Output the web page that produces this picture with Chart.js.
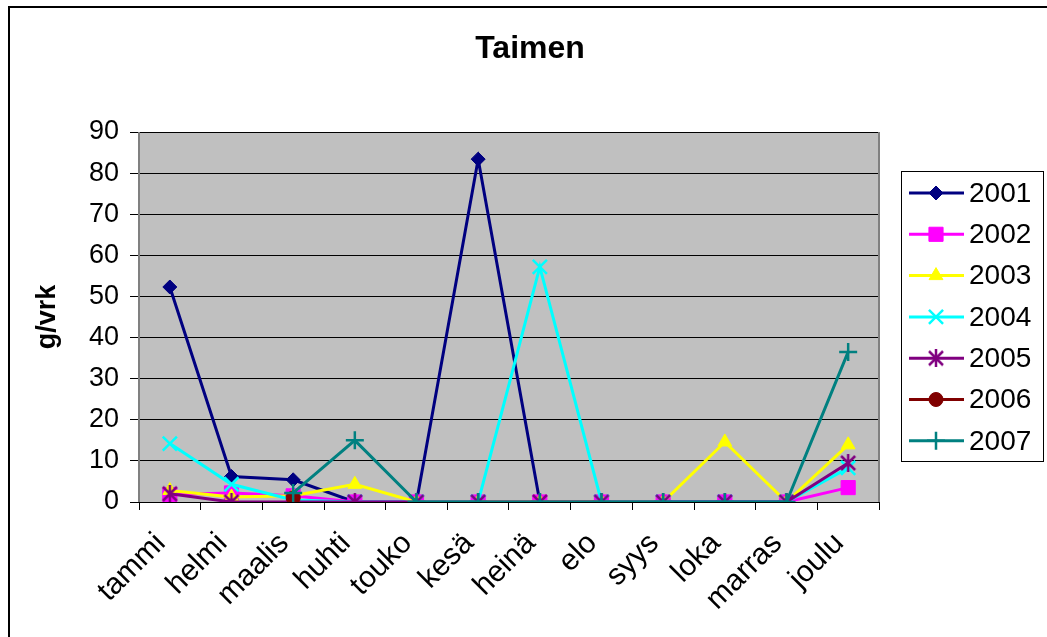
<!DOCTYPE html>
<html>
<head>
<meta charset="utf-8">
<script src="https://cdn.jsdelivr.net/npm/chart.js@4/dist/chart.umd.min.js"></script>
<style>
  html, body { margin: 0; padding: 0; background: #fff; }
  #wrap { width: 1047px; height: 637px; }
</style>
</head>
<body>
<div id="wrap"><canvas id="chart"></canvas></div>
<script>
const chartTitle = 'Taimen';
const yTitle = 'g/vrk';
const months = ['tammi', 'helmi', 'maalis', 'huhti', 'touko', 'kesä', 'heinä', 'elo', 'syys', 'loka', 'marras', 'joulu'];
const years = ['2001', '2002', '2003', '2004', '2005', '2006', '2007'];

const v2001 = [52.3, 6.2, 5.4, 0, 0, 83.4, 0, 0, 0, 0, 0, null];
const v2002 = [1.8, 2.2, 1.5, 0, 0, 0, 0, 0, 0, 0, 0, 3.5];
const v2003 = [2.8, 1.2, 1.5, 4.3, 0, 0, 0, 0, 0, 14.6, 0, 13.9];
const v2004 = [14.2, 4.3, 0.5, 0, 0, 0, 57.2, 0, 0, 0, 0, 8.3];
const v2005 = [2.0, 0, 0, 0, 0, 0, 0, 0, 0, 0, 0, 9.5];
const v2006 = [null, null, 1.0, null, null, null, null, null, null, null, null, null];
const v2007 = [null, null, 2.2, 15.0, 0, 0, 0, 0, 0, 0, 0, 36.5];

const seriesValues = [v2001, v2002, v2003, v2004, v2005, v2006, v2007];
const colors = ['#000080', '#FF00FF', '#FFFF00', '#00FFFF', '#800080', '#800000', '#008080'];

const FONT = "'Liberation Sans', Arial, sans-serif";

// Excel style asterisk: an X with a vertical bar
function asterisk(color) {
    const c = document.createElement('canvas');
    c.width = 18; c.height = 18;
    const g = c.getContext('2d');
    g.strokeStyle = color;
    g.lineWidth = 2.5;
    g.beginPath();
    g.moveTo(2, 2); g.lineTo(16, 16);
    g.moveTo(16, 2); g.lineTo(2, 16);
    g.moveTo(9, 0); g.lineTo(9, 18);
    g.stroke();
    return c;
}

const markers = ['rectRot', 'rect', 'triangle', 'crossRot', asterisk('#800080'), 'circle', 'cross'];
const markerSizes = [7, 10, 8, 10, 9, 7, 9];

const datasets = years.map(function(y, i) {
    const stroked = markers[i] === 'cross' || markers[i] === 'crossRot';
    return {
        label: y,
        data: seriesValues[i],
        borderColor: colors[i],
        backgroundColor: colors[i],
        borderWidth: 3,
        pointStyle: markers[i],
        pointRadius: markerSizes[i],
        pointBorderWidth: stroked ? 2.5 : 1,
        pointBackgroundColor: colors[i],
        pointBorderColor: colors[i],
        fill: false,
        tension: 0,
        spanGaps: false,
        order: years.length - i
    };
});

// plot background, frame, title and legend in Excel style
const excelLook = {
    id: 'excelLook',
    beforeDraw(chart) {
        const a = chart.chartArea;
        const ctx = chart.ctx;
        ctx.save();
        ctx.fillStyle = '#C0C0C0';
        ctx.fillRect(a.left, a.top, a.right - a.left, a.bottom - a.top);
        ctx.restore();
    },
    beforeDatasetsDraw(chart) {
        const a = chart.chartArea;
        const ctx = chart.ctx;
        ctx.save();
        ctx.strokeStyle = '#808080';
        ctx.lineWidth = 2;
        ctx.beginPath();
        ctx.moveTo(a.left, a.top); ctx.lineTo(a.left, a.bottom);
        ctx.moveTo(a.right, a.top); ctx.lineTo(a.right, a.bottom);
        ctx.stroke();
        ctx.restore();
    },
    afterDraw(chart) {
        const ctx = chart.ctx;
        ctx.save();
        // outer frame (left and top only, picture is cropped)
        ctx.strokeStyle = '#000';
        ctx.lineWidth = 2;
        ctx.beginPath();
        ctx.moveTo(9, 637); ctx.lineTo(9, 7); ctx.lineTo(1047, 7);
        ctx.stroke();

        // title
        ctx.fillStyle = '#000';
        ctx.font = 'bold 32px ' + FONT;
        ctx.textAlign = 'center';
        ctx.textBaseline = 'alphabetic';
        ctx.fillText(chartTitle, 530, 58);

        // legend
        ctx.lineWidth = 1;
        ctx.strokeStyle = '#000';
        ctx.strokeRect(901.5, 171.5, 142, 290);
        ctx.font = '28px ' + FONT;
        ctx.textAlign = 'left';
        ctx.textBaseline = 'middle';
        chart.data.datasets.forEach(function(ds, i) {
            const y = 193 + i * 41.3;
            ctx.strokeStyle = ds.borderColor;
            ctx.lineWidth = 3;
            ctx.beginPath();
            ctx.moveTo(909, y); ctx.lineTo(964, y);
            ctx.stroke();
            ctx.fillStyle = ds.backgroundColor;
            ctx.lineWidth = ds.pointBorderWidth;
            Chart.helpers.drawPoint(ctx, {
                pointStyle: ds.pointStyle,
                radius: ds.pointRadius,
                rotation: 0,
                borderWidth: ds.pointBorderWidth
            }, 936, y);
            ctx.fillStyle = '#000';
            ctx.fillText(ds.label, 969, y + 1);
        });
        ctx.restore();
    }
};

new Chart(document.getElementById('chart'), {
    type: 'line',
    data: {
        labels: months,
        datasets: datasets
    },
    options: {
        responsive: true,
        maintainAspectRatio: false,
        animation: false,
        layout: {
            padding: { top: 132, right: 168, bottom: 0, left: 0 }
        },
        plugins: {
            legend: { display: false },
            title: { display: false },
            tooltip: { enabled: false }
        },
        scales: {
            x: {
                offset: true,
                grid: {
                    offset: true,
                    drawOnChartArea: false,
                    drawTicks: true,
                    tickLength: 8,
                    tickColor: '#000'
                },
                border: { display: true, color: '#000', width: 1 },
                ticks: {
                    autoSkip: false,
                    minRotation: 45,
                    maxRotation: 45,
                    padding: 16,
                    labelOffset: -9,
                    color: '#000',
                    font: { family: FONT, size: 30 }
                },
                afterFit: function(scale) { scale.height = 135; }
            },
            y: {
                min: 0,
                max: 90,
                grid: {
                    color: '#000',
                    lineWidth: 1,
                    drawTicks: true,
                    tickLength: 9,
                    tickColor: '#000'
                },
                border: { display: false },
                ticks: {
                    stepSize: 10,
                    padding: 11,
                    color: '#000',
                    font: { family: FONT, size: 27 }
                },
                title: {
                    display: true,
                    text: yTitle,
                    color: '#000',
                    padding: { top: 31, bottom: 0 },
                    font: { family: FONT, size: 27, weight: 'bold' }
                },
                afterFit: function(scale) { scale.width = 139; }
            }
        }
    },
    plugins: [excelLook]
});
</script>
</body>
</html>
